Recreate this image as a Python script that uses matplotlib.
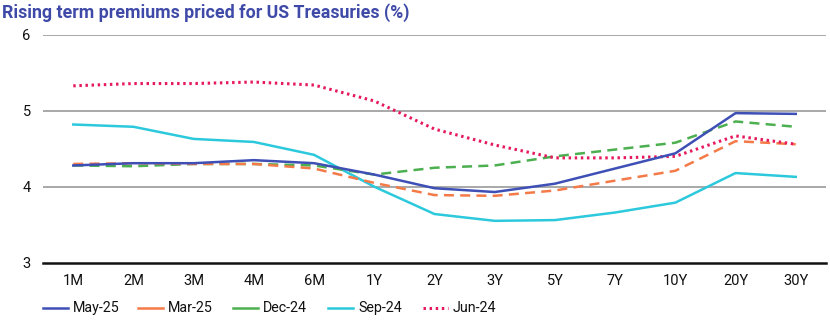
import matplotlib
matplotlib.use("Agg")
import matplotlib.pyplot as plt
from matplotlib.lines import Line2D

plt.rcParams['font.family'] = ['Roboto', 'DejaVu Sans']

tenors = ["1M", "2M", "3M", "4M", "6M", "1Y", "2Y", "3Y", "5Y", "7Y", "10Y", "20Y", "30Y"]
may25 = [4.28, 4.31, 4.31, 4.35, 4.31, 4.16, 3.98, 3.93, 4.04, 4.24, 4.44, 4.97, 4.96]
mar25 = [4.30, 4.31, 4.30, 4.30, 4.24, 4.05, 3.89, 3.88, 3.95, 4.08, 4.21, 4.60, 4.56]
dec24 = [4.28, 4.27, 4.30, 4.30, 4.28, 4.16, 4.25, 4.28, 4.40, 4.49, 4.58, 4.86, 4.79]
sep24 = [4.82, 4.79, 4.63, 4.59, 4.42, 4.00, 3.64, 3.55, 3.56, 3.66, 3.79, 4.18, 4.13]
jun24 = [5.33, 5.36, 5.36, 5.38, 5.34, 5.13, 4.76, 4.55, 4.38, 4.38, 4.40, 4.67, 4.56]
yticks = [3, 4, 5, 6]
labels = ["May-25", "Mar-25", "Dec-24", "Sep-24", "Jun-24"]

c_may = "#3E4FB5"
c_mar = "#F47A48"
c_dec = "#4CAF50"
c_sep = "#2CC9DD"
c_jun = "#E6195C"

W, H = 830, 321
fig = plt.figure(figsize=(W / 100, H / 100), dpi=100)
ax = fig.add_axes([0.052, 0.182, 0.943, 0.709])

x = list(range(len(tenors)))
ax.plot(x, sep24, color=c_sep, lw=1.8, zorder=3)
ax.plot(x, dec24, color=c_dec, lw=1.8, ls=(0, (4, 2.5)), zorder=3)
ax.plot(x, mar25, color=c_mar, lw=1.8, ls=(0, (4, 2.5)), zorder=3)
ax.plot(x, jun24, color=c_jun, lw=2.2, ls=(0, (0.8, 1.2)), zorder=4)
ax.plot(x, may25, color=c_may, lw=1.8, zorder=5)

ax.set_xlim(-0.5, len(tenors) - 0.5)
ax.set_ylim(3, 6)
ax.set_yticks(yticks)
ax.set_xticks(x)
ax.set_xticklabels(tenors)
for yv in yticks[1:]:
    ax.axhline(yv, color="#9a9a9a", lw=1.2, zorder=1)
for s in ["top", "right", "left"]:
    ax.spines[s].set_visible(False)
ax.spines["bottom"].set_color("#111111")
ax.spines["bottom"].set_linewidth(1.8)
ax.tick_params(axis="both", length=0, labelsize=10.5, colors="#111111")
ax.tick_params(axis="y", pad=9)
ax.tick_params(axis="x", pad=8)

fig.text(0.003, 0.962, "Rising term premiums priced for US Treasuries (%)",
         fontsize=12.8, fontweight="bold", color="#3F4AA8", va="center", ha="left")

# legend drawn manually (solid keys for dashed series, as in the reference)
styles = [
    dict(color=c_may, lw=1.8),
    dict(color=c_mar, lw=1.8),
    dict(color=c_dec, lw=1.8),
    dict(color=c_sep, lw=1.8),
    dict(color=c_jun, lw=2.2, ls=(0, (0.8, 1.2))),
]
ly = 1 - 308 / H
for i, (lab, st) in enumerate(zip(labels, styles)):
    x0 = 43 + 95 * i
    fig.add_artist(Line2D([x0 / W, (x0 + 25) / W], [ly, ly],
                          transform=fig.transFigure, **st))
    fig.text((x0 + 30) / W, ly, lab, fontsize=10.3, color="#111111",
             va="center", ha="left")

fig.savefig("out.png", dpi=100)
